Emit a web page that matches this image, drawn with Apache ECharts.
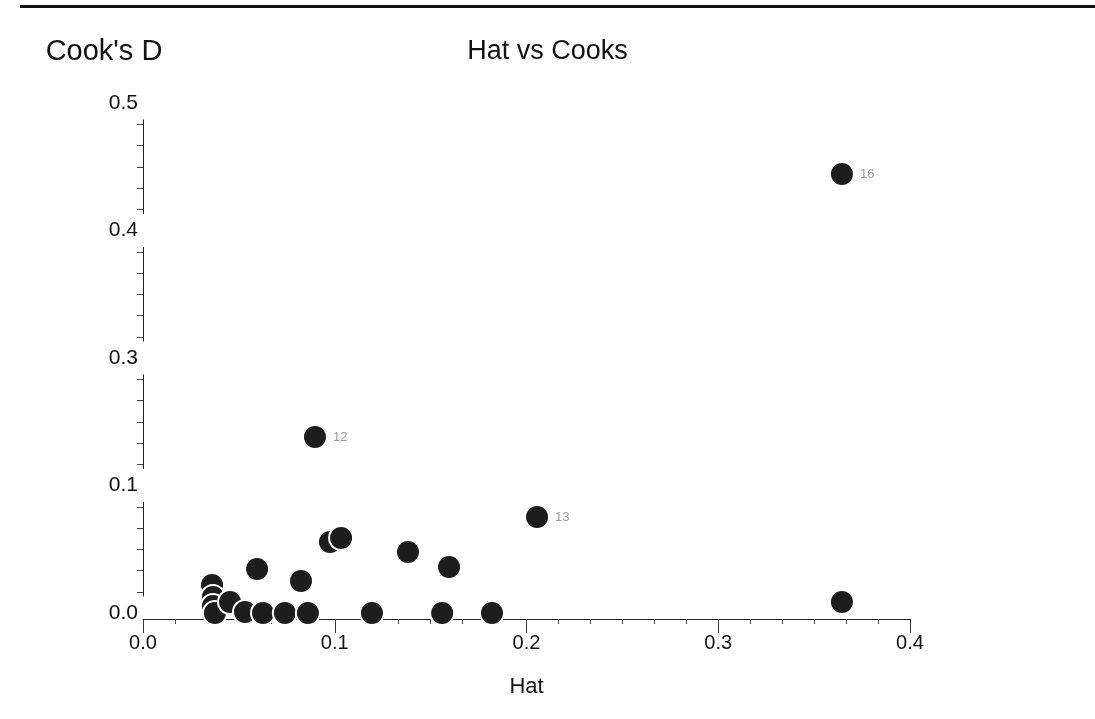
<!DOCTYPE html>
<html>
<head>
<meta charset="utf-8">
<script src="https://cdn.jsdelivr.net/npm/echarts@6/dist/echarts.min.js"></script>
<style>
html,body{margin:0;padding:0;background:#fff;}
#chart{width:1095px;height:719px;}
</style>
</head>
<body>
<div id="chart"></div>
<script>
// Hat (leverage) values, x
var hatValues = [0.3645, 0.0897, 0.2055, 0.0975, 0.1033, 0.1382, 0.1596, 0.0595, 0.0824, 0.3645,
                 0.0360, 0.0365, 0.0365, 0.0375, 0.0454, 0.0532, 0.0626, 0.0740, 0.0860, 0.1194, 0.1560, 0.1820];
// Cook's D values, y
var cooksValues = [0.4304, 0.1725, 0.0941, 0.0696, 0.0735, 0.0598, 0.0451, 0.0431, 0.0314, 0.0108,
                   0.0275, 0.0157, 0.0069, 0.0000, 0.0108, 0.0010, 0.0000, 0.0000, 0.0000, 0.0000, 0.0000, 0.0000];
// observation labels (only the legible ones)
var pointLabels = ['16', '12', '13', '', '', '', '', '', '', '',
                   '', '', '', '', '', '', '', '', '', '', '', ''];
var xTickLabels = ['0.0', '0.1', '0.2', '0.3', '0.4'];
var yTickLabels = ['0.0', '0.1', '0.3', '0.4', '0.5'];

var points = hatValues.map(function (h, i) {
  return { value: [h, cooksValues[i]], name: pointLabels[i] };
});

var FONT = '"Liberation Sans", Arial, sans-serif';
var chart = echarts.init(document.getElementById('chart'), null, { renderer: 'canvas' });
chart.setOption({
  backgroundColor: '#fff',
  animation: false,
  textStyle: { fontFamily: FONT },
  title: {
    text: 'Hat vs Cooks',
    left: 'center',
    top: 33,
    textStyle: { fontFamily: FONT, fontSize: 27, fontWeight: 'normal', color: '#111' }
  },
  graphic: [{
    type: 'rect',
    shape: { x: 20, y: 5, width: 1075, height: 3 },
    style: { fill: '#111' },
    silent: true
  }],
  grid: { left: 143, right: 185, top: 103, bottom: 106, containLabel: false, outerBoundsMode: 'none' },
  xAxis: {
    type: 'value',
    min: 0, max: 0.4, interval: 0.1,
    z: 3,
    offset: 6,
    name: 'Hat',
    nameLocation: 'middle',
    nameGap: 57,
    nameTextStyle: { fontFamily: FONT, fontSize: 22, color: '#111' },
    axisLine: { show: true, onZero: false, lineStyle: { color: '#222', width: 1 } },
    axisTick: { show: true, length: 14, lineStyle: { color: '#333' } },
    minorTick: { show: true, splitNumber: 6, length: 5, lineStyle: { color: '#444' } },
    splitLine: { show: false },
    axisLabel: {
      margin: 14, fontSize: 20, color: '#111', fontFamily: FONT,
      formatter: function (v, i) { return xTickLabels[i]; }
    }
  },
  yAxis: {
    type: 'value',
    min: 0, max: 0.5, interval: 0.125,
    z: 1,
    name: "Cook's D",
    nameLocation: 'end',
    nameGap: 37,
    nameTextStyle: { fontFamily: FONT, fontSize: 29, color: '#111', align: 'center', padding: [0, 78, 0, 0] },
    axisLine: { show: true, onZero: false, lineStyle: { color: '#222', width: 1 } },
    axisTick: { show: false },
    minorTick: { show: true, splitNumber: 6, length: 6, lineStyle: { color: '#444' } },
    splitLine: { show: false },
    axisLabel: {
      margin: -4, fontSize: 21, color: '#111', fontFamily: FONT,
      backgroundColor: '#fff',
      padding: [6, 9, 6, 4],
      formatter: function (v, i) { return yTickLabels[i]; }
    }
  },
  series: [{
    type: 'scatter',
    data: points,
    symbol: 'circle',
    symbolSize: 24,
    itemStyle: { color: '#1d1d1d', borderColor: '#fff', borderWidth: 2, opacity: 1 },
    label: {
      show: true,
      position: 'right',
      distance: 5,
      fontSize: 13,
      color: '#9a9a9a',
      fontFamily: FONT,
      formatter: function (p) { return p.name; }
    },
    z: 5
  }]
});
</script>
</body>
</html>
